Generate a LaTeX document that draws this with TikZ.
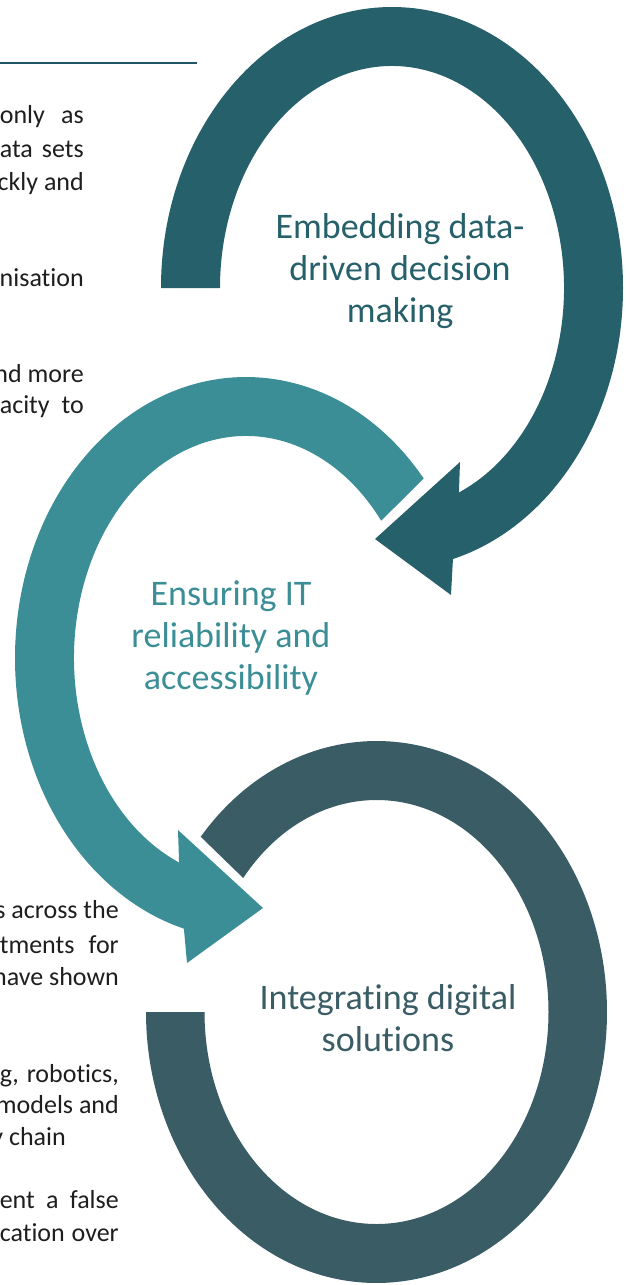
\documentclass[tikz,border=0pt]{standalone}
\usepackage{fontspec}
\setmainfont{Carlito}[Ligatures={NoCommon,NoContextual},Contextuals={NoAlternate}]
\definecolor{arcA}{HTML}{26606A}
\definecolor{arcB}{HTML}{3C8E96}
\definecolor{arcC}{HTML}{3A5C65}
\definecolor{bodytxt}{HTML}{1E1E1E}
\definecolor{rulec}{HTML}{1F5567}
\newcommand\jbox[2]{\setbox0\hbox{#2}\ifdim\wd0<#1\relax\makebox[#1][s]{#2}\else\box0\fi}
\begin{document}
\begin{tikzpicture}[x=1pt,y=1pt,yscale=-1,
  body/.style={font=\fontsize{26}{32}\selectfont, text=bodytxt, inner sep=0pt, anchor=base east},
  biglabel/.style={font=\fontsize{36}{42}\selectfont, align=center, inner sep=0pt}]
\useasboundingbox (0,0) rectangle (630,1285);

% top rule
\coordinate (r0) at (0,63);
\coordinate (r1) at (197,63);
\draw[rulec, line width=1.3pt] (r0) -- (r1);

% top arc (dark teal)
\fill[arcA] ({392+231*cos(180)},{288+281*sin(180)})
  arc[start angle=180, end angle=434.7, x radius=231pt, y radius=281pt]
  -- (451,595) -- (375,539) -- (460,462)
  -- ({392+172*cos(427.1)},{288+222*sin(427.1)})
  arc[start angle=427.1, end angle=180, x radius=172pt, y radius=222pt]
  -- cycle;

% middle arc (teal)
\fill[arcB] ({246+231*cos(-39.7)},{658+281*sin(-39.7)})
  arc[start angle=-39.7, end angle=-254.4, x radius=231pt, y radius=281pt]
  -- (187,963) -- (263,908) -- (178,830)
  -- ({246+172*cos(-247.1)},{658+222*sin(-247.1)})
  arc[start angle=-247.1, end angle=-38.2, x radius=172pt, y radius=222pt]
  -- cycle;

% bottom arc (slate)
\fill[arcC] ({376.5+230.5*cos(220.3)},{1012+271*sin(220.3)})
  arc[start angle=220.3, end angle=540, x radius=230.5pt, y radius=271pt]
  -- ({376.5+172*cos(540)},{1012+212*sin(540)})
  arc[start angle=540, end angle=219.2, x radius=172pt, y radius=212pt]
  -- cycle;

% labels
\node[biglabel, text=arcA] (lA) at (400,271) {Embedding data-\\driven decision\\making};
\node[biglabel, text=arcB] (lB) at (231,638) {Ensuring IT\\reliability and\\accessibility};
\node[biglabel, text=arcC] (lC) at (388,1018) {Integrating digital\\solutions};

% left text, first block
\node[body] (a1) at (84,123) {\jbox{84pt}{only as}};
\node[body] (a2) at (84,157) {\jbox{84pt}{ata sets}};
\node[body] (a3) at (84,190) {\jbox{84pt}{ckly and}};
\node[body] (a4) at (84,286) {nisation};
\node[body] (a5) at (84,382) {\jbox{84pt}{nd more}};
\node[body] (a6) at (84,413) {\jbox{84pt}{acity to}};

% left text, second block
\node[body] (b1) at (119,918) {\jbox{119pt}{s across the}};
\node[body] (b2) at (119,953) {\jbox{119pt}{tments for}};
\node[body] (b3) at (119,985) {\jbox{119pt}{have shown}};
\node[body] (b4) at (119,1082) {\jbox{119pt}{g, robotics,}};
\node[body] (b5) at (119,1113) {\jbox{119pt}{models and}};
\node[body] (b6) at (66,1145) {y chain};
\node[body] (b7) at (119,1208) {\jbox{119pt}{ent a false}};
\node[body] (b8) at (119,1241) {\jbox{119pt}{cation over}};
\end{tikzpicture}
\end{document}
